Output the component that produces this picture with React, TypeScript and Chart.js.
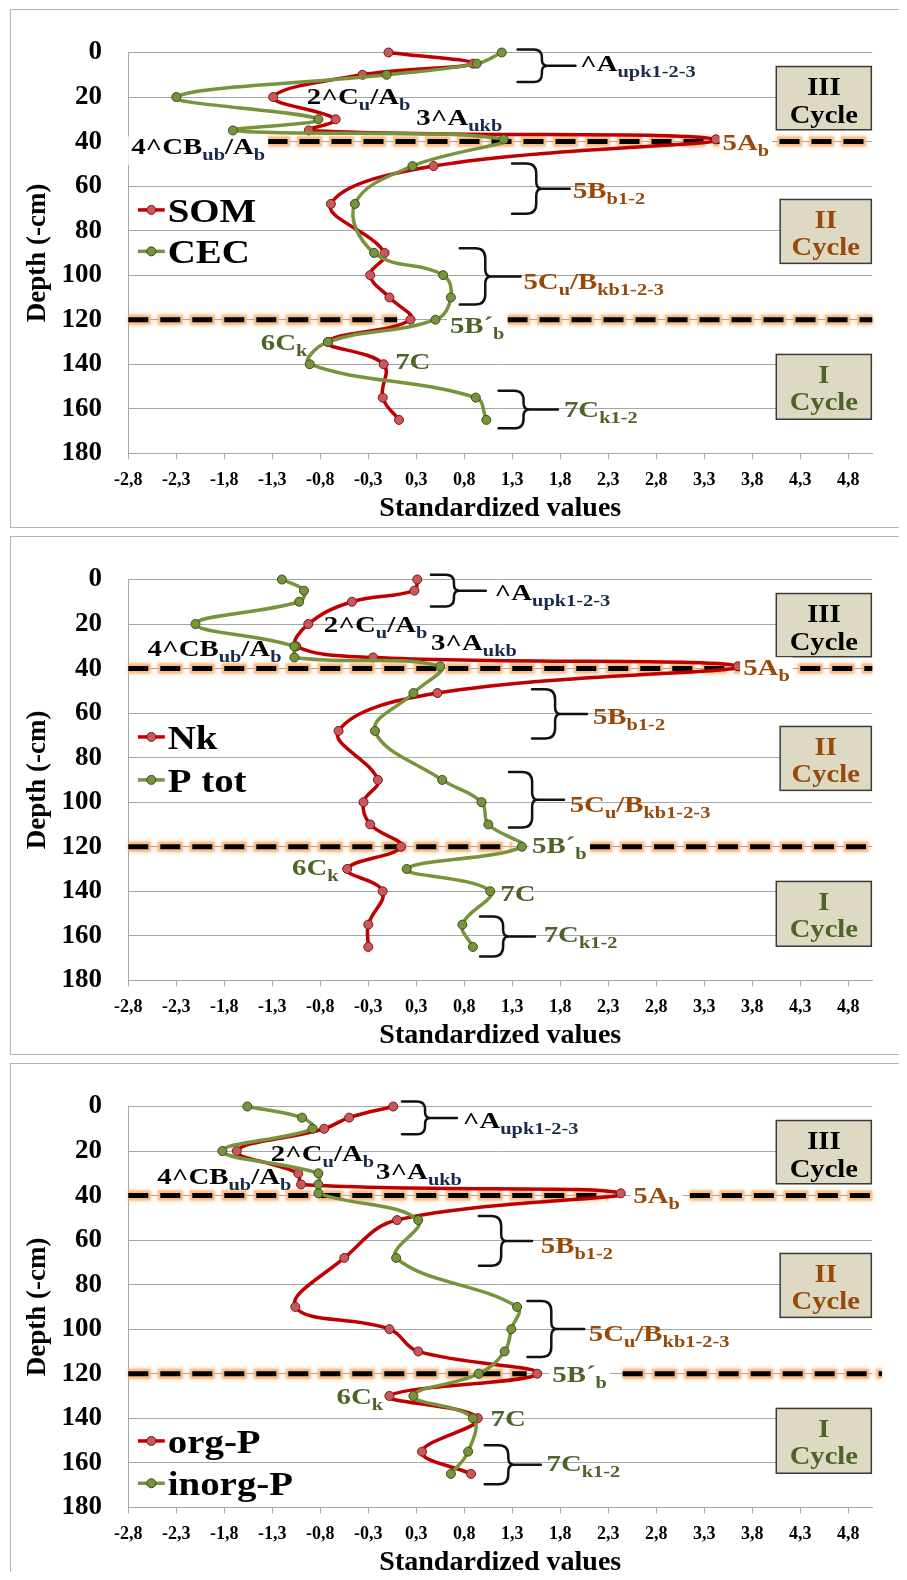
import React, { useEffect, useRef } from "react";
import { Chart, registerables } from "chart.js";

Chart.register(...registerables);

// ---------------- data ----------------
const depths = [0, 5, 10, 20, 30, 35, 39, 51, 68, 90, 100, 110, 120, 130, 140, 155, 165];

const somValues = [-0.04, 0.84, -0.31, -1.24, -0.59, -0.87, 3.37, 0.43, -0.64, -0.08, -0.23, -0.03, 0.19, -0.67, -0.09, -0.1, 0.07];
const cecValues = [1.14, 0.88, -0.06, -2.25, -0.77, -1.66, 1.16, 0.21, -0.39, -0.19, 0.53, 0.61, 0.45, -0.67, -0.86, 0.87, 0.98];

const nkValues = [0.26, 0.23, -0.42, -0.875, -1.0, -0.2, 3.6, 0.47, -0.56, -0.15, -0.3, -0.23, 0.09, -0.47, -0.1, -0.25, -0.25];
const ptotValues = [-1.15, -0.92, -0.97, -2.05, -1.02, -1.02, 0.5, 0.22, -0.18, 0.52, 0.93, 1.0, 1.35, 0.15, 1.02, 0.73, 0.84];

const orgPValues = [0.01, -0.45, -0.71, -1.62, -0.98, -0.95, 2.38, 0.05, -0.5, -1.01, -0.03, 0.27, 1.51, -0.03, 0.89, 0.31, 0.82];
const inorgPValues = [-1.51, -0.94, -0.83, -1.77, -0.77, -0.77, -0.77, 0.27, 0.04, 1.3, 1.24, 1.17, 0.9, 0.22, 0.84, 0.79, 0.61];

const xTickValues = [-2.75, -2.25, -1.75, -1.25, -0.75, -0.25, 0.25, 0.75, 1.25, 1.75, 2.25, 2.75, 3.25, 3.75, 4.25, 4.75];
const xTickLabels = ["-2,8", "-2,3", "-1,8", "-1,3", "-0,8", "-0,3", "0,3", "0,8", "1,3", "1,8", "2,3", "2,8", "3,3", "3,8", "4,3", "4,8"];
const xMin = -2.75;
const xMax = 5.0;
const yMin = 0;
const yMax = 180;
const yStep = 20;

const K = "#000000";
const BR = "#984807";
const GR = "#4f6228";

const cycleBoxes = [
  { lines: ["III", "Cycle"], color: K, x1: 4.0, x2: 4.99, d1: 6.3, d2: 34.7 },
  { lines: ["II", "Cycle"], color: BR, x1: 4.04, x2: 4.99, d1: 66, d2: 94.7 },
  { lines: ["I", "Cycle"], color: GR, x1: 4.0, x2: 4.99, d1: 135.6, d2: 164.7 },
];

// labels: parts beginning with "_" are subscripts
const panel1Labels = [
  { parts: ["^A", "_upk1-2-3"], x: 1.955, d: 8.4, c: K },
  { parts: ["2^C", "_u", "/A", "_b"], x: -0.89, d: 23.2, c: K },
  { parts: ["3^A", "_ukb"], x: 0.25, d: 32.6, c: K },
  { parts: ["4^CB", "_ub", "/A", "_b"], x: -2.72, d: 45.7, c: K, bg: true },
  { parts: ["5A", "_b"], x: 3.44, d: 43.6, c: BR, bg: true },
  { parts: ["5B", "_b1-2"], x: 1.882, d: 65.4, c: BR },
  { parts: ["5C", "_u", "/B", "_kb1-2-3"], x: 1.366, d: 106.2, c: BR },
  { parts: ["5B\u00b4", "_b"], x: 0.6, d: 125.9, c: GR, bg: true },
  { parts: ["6C", "_k"], x: -1.37, d: 133.5, c: GR },
  { parts: ["7C"], x: 0.03, d: 142, c: GR },
  { parts: ["7C", "_k1-2"], x: 1.788, d: 163.8, c: GR },
];
const panel2Labels = [
  { parts: ["^A", "_upk1-2-3"], x: 1.065, d: 9.3, c: K },
  { parts: ["2^C", "_u", "/A", "_b"], x: -0.713, d: 23.6, c: K },
  { parts: ["3^A", "_ukb"], x: 0.402, d: 31.7, c: K },
  { parts: ["4^CB", "_ub", "/A", "_b"], x: -2.55, d: 34.3, c: K },
  { parts: ["5A", "_b"], x: 3.655, d: 42.9, c: BR, bg: true },
  { parts: ["5B", "_b1-2"], x: 2.09, d: 65, c: BR },
  { parts: ["5C", "_u", "/B", "_kb1-2-3"], x: 1.848, d: 104.3, c: BR },
  { parts: ["5B\u00b4", "_b"], x: 1.455, d: 122.9, c: GR, bg: true },
  { parts: ["6C", "_k"], x: -1.045, d: 132.9, c: GR },
  { parts: ["7C"], x: 1.125, d: 144.3, c: GR },
  { parts: ["7C", "_k1-2"], x: 1.577, d: 162.9, c: GR },
];
const panel3Labels = [
  { parts: ["^A", "_upk1-2-3"], x: 0.733, d: 9.6, c: K },
  { parts: ["2^C", "_u", "/A", "_b"], x: -1.267, d: 24.3, c: K },
  { parts: ["3^A", "_ukb"], x: -0.17, d: 32.7, c: K },
  { parts: ["4^CB", "_ub", "/A", "_b"], x: -2.448, d: 34.8, c: K },
  { parts: ["5A", "_b"], x: 2.51, d: 43.5, c: BR, bg: true },
  { parts: ["5B", "_b1-2"], x: 1.547, d: 65.8, c: BR },
  { parts: ["5C", "_u", "/B", "_kb1-2-3"], x: 2.047, d: 105.3, c: BR },
  { parts: ["5B\u00b4", "_b"], x: 1.667, d: 123.6, c: GR, bg: true },
  { parts: ["6C", "_k"], x: -0.58, d: 133.4, c: GR },
  { parts: ["7C"], x: 1.023, d: 143.5, c: GR },
  { parts: ["7C", "_k1-2"], x: 1.607, d: 163.6, c: GR },
];

// braces: [x left, x stem end, depth top, depth bottom]
const panel1Braces = [
  [1.305, 1.908, -1.4, 13.3],
  [1.247, 1.848, 49.9, 72.4],
  [0.703, 1.335, 87.9, 113.2],
  [1.107, 1.726, 151.9, 168.8],
];
const panel2Braces = [
  [0.402, 0.974, -2.1, 12.1],
  [1.455, 2.028, 49.3, 71.4],
  [1.216, 1.789, 86.4, 111.4],
  [0.914, 1.486, 151.4, 169.3],
];
const panel3Braces = [
  [0.101, 0.673, -2.2, 12.5],
  [0.902, 1.455, 49.2, 71.5],
  [1.408, 1.999, 87.3, 112.5],
  [0.963, 1.547, 152.1, 169.6],
];

// dashed horizon boundaries: [depth, x from, x to]
const panel1Dashes = [
  [40, -1.3, 5.0],
  [120, -2.75, 0.05],
  [120, 1.2, 5.0],
];
const panel2Dashes = [
  [40, -2.75, 5.0],
  [120, -2.75, 1.25],
  [120, 2.06, 5.0],
];
const panel3Dashes = [
  [40, -2.75, 2.25],
  [40, 3.1, 5.0],
  [120, -2.75, 1.4],
  [120, 2.4, 5.1],
];

const panel1LegendDepths = [70.7, 89.3];
const panel2LegendDepths = [70.7, 90.0];
const panel3LegendDepths = [150.2, 169.2];

const panels = [
  {
    series: [
      { name: "SOM", values: somValues, kind: "red" },
      { name: "CEC", values: cecValues, kind: "green" },
    ],
    legendDepths: panel1LegendDepths,
    labels: panel1Labels,
    braces: panel1Braces,
    dashes: panel1Dashes,
  },
  {
    series: [
      { name: "Nk", values: nkValues, kind: "red" },
      { name: "P tot", values: ptotValues, kind: "green" },
    ],
    legendDepths: panel2LegendDepths,
    labels: panel2Labels,
    braces: panel2Braces,
    dashes: panel2Dashes,
  },
  {
    series: [
      { name: "org-P", values: orgPValues, kind: "red" },
      { name: "inorg-P", values: inorgPValues, kind: "green" },
    ],
    legendDepths: panel3LegendDepths,
    labels: panel3Labels,
    braces: panel3Braces,
    dashes: panel3Dashes,
  },
];

// ---------------- styles ----------------
const FAMILY = "'Liberation Serif', 'Times New Roman', Times, serif";
const GRID = "#a6a6a6";
const RED_STYLE = { line: "#c00000", fill: "#c9585a", edge: "#7a1414" };
const GREEN_STYLE = { line: "#77933c", fill: "#77933c", edge: "#3a4c1a" };
const SUB_COLOR_FOR_BLACK = "#1a2b4a";
const LBL_MAIN = 24;
const LBL_SUB = 17;
const LBL_SUB_OFF = 6;
const LBL_HS = 1.2;

const CANVAS_W = 894;
const CANVAS_H = 517;

function fontStr(size: number) {
  return `bold ${size}px ${FAMILY}`;
}

function drawScaledText(ctx: CanvasRenderingContext2D, text: string, x: number, y: number, size: number, color: string, hs: number) {
  ctx.save();
  ctx.font = fontStr(size);
  ctx.fillStyle = color;
  ctx.textBaseline = "alphabetic";
  ctx.textAlign = "left";
  ctx.translate(x, y);
  ctx.scale(hs, 1);
  ctx.fillText(text, 0, 0);
  ctx.restore();
}

function measureScaled(ctx: CanvasRenderingContext2D, text: string, size: number, hs: number) {
  ctx.save();
  ctx.font = fontStr(size);
  const w = ctx.measureText(text).width * hs;
  ctx.restore();
  return w;
}

function drawBrace(ctx: CanvasRenderingContext2D, x0: number, x3: number, yT: number, yB: number) {
  const w = x3 - x0;
  const x1 = x0 + 0.42 * w;
  const x2 = x0 + 0.52 * w;
  const yM = (yT + yB) / 2;
  const r = Math.min(10, (yB - yT) / 4);
  ctx.beginPath();
  ctx.moveTo(x0, yT);
  ctx.lineTo(x1 - r, yT);
  ctx.quadraticCurveTo(x1, yT, x1, yT + r);
  ctx.lineTo(x1, yM - r * 0.7);
  ctx.quadraticCurveTo(x1, yM, x2, yM);
  ctx.quadraticCurveTo(x1, yM, x1, yM + r * 0.7);
  ctx.lineTo(x1, yB - r);
  ctx.quadraticCurveTo(x1, yB, x1 - r, yB);
  ctx.lineTo(x0, yB);
  ctx.moveTo(x2, yM);
  ctx.lineTo(x3, yM);
  ctx.stroke();
}

function makeAnnotPlugin(panel: any) {
  return {
    id: "soilAnnot",
    beforeDatasetsDraw(chart: any) {
      const { ctx } = chart;
      const xs = chart.scales.x;
      const ys = chart.scales.y;
      // cycle boxes
      cycleBoxes.forEach((b) => {
        const left = xs.getPixelForValue(b.x1);
        const right = xs.getPixelForValue(b.x2);
        const top = ys.getPixelForValue(b.d1);
        const bottom = ys.getPixelForValue(b.d2);
        ctx.save();
        ctx.fillStyle = "#ddd9c3";
        ctx.fillRect(left, top, right - left, bottom - top);
        ctx.strokeStyle = "#3a3a3a";
        ctx.lineWidth = 1.5;
        ctx.strokeRect(left, top, right - left, bottom - top);
        ctx.restore();
        const cx = (left + right) / 2;
        b.lines.forEach((t, i) => {
          const w = measureScaled(ctx, t, 26, 1.1);
          drawScaledText(ctx, t, cx - w / 2, top + 28.5 + i * 27.5, 26, b.color, 1.1);
        });
      });
      // dashed boundaries with orange glow
      panel.dashes.forEach((s: number[]) => {
        const py = ys.getPixelForValue(s[0]);
        const xa = xs.getPixelForValue(s[1]);
        const xb = xs.getPixelForValue(s[2]);
        ctx.save();
        ctx.lineCap = "butt";
        // glow
        ctx.lineWidth = 10;
        ctx.strokeStyle = "rgba(250,185,125,0.75)";
        ctx.setLineDash([25, 7]);
        ctx.lineDashOffset = 2.5;
        ctx.shadowColor = "rgba(247,150,70,0.8)";
        ctx.shadowBlur = 4;
        ctx.beginPath();
        ctx.moveTo(xa, py);
        ctx.lineTo(xb, py);
        ctx.stroke();
        ctx.restore();
        ctx.save();
        ctx.lineCap = "butt";
        ctx.lineWidth = 5;
        ctx.strokeStyle = "#000";
        ctx.setLineDash([20, 12]);
        ctx.beginPath();
        ctx.moveTo(xa, py);
        ctx.lineTo(xb, py);
        ctx.stroke();
        ctx.restore();
      });
    },
    afterDatasetsDraw(chart: any) {
      const { ctx } = chart;
      const xs = chart.scales.x;
      const ys = chart.scales.y;
      // braces
      ctx.save();
      ctx.strokeStyle = "#111";
      ctx.lineWidth = 2.5;
      ctx.lineJoin = "round";
      ctx.lineCap = "round";
      panel.braces.forEach((b: number[]) => {
        drawBrace(ctx, xs.getPixelForValue(b[0]), xs.getPixelForValue(b[1]), ys.getPixelForValue(b[2]), ys.getPixelForValue(b[3]));
      });
      ctx.restore();
      // labels
      panel.labels.forEach((lab: any) => {
        const px = xs.getPixelForValue(lab.x);
        const py = ys.getPixelForValue(lab.d);
        const items = lab.parts.map((p: string) => {
          const sub = p.startsWith("_");
          const t = sub ? p.slice(1) : p;
          const size = sub ? LBL_SUB : LBL_MAIN;
          return { t, sub, size, w: measureScaled(ctx, t, size, LBL_HS) };
        });
        const total = items.reduce((a: number, it: any) => a + it.w, 0);
        if (lab.bg) {
          ctx.save();
          ctx.fillStyle = "#ffffff";
          ctx.fillRect(px - 3, py - LBL_MAIN * 0.74, total + 6, LBL_MAIN * 0.74 + LBL_SUB_OFF + 5);
          ctx.restore();
        }
        let cx = px;
        items.forEach((it: any) => {
          const color = it.sub && lab.c === K ? SUB_COLOR_FOR_BLACK : lab.c;
          drawScaledText(ctx, it.t, cx, it.sub ? py + LBL_SUB_OFF : py, it.size, color, LBL_HS);
          cx += it.w;
        });
      });
      // legend
      panel.series.forEach((s: any, i: number) => {
        const st = s.kind === "red" ? RED_STYLE : GREEN_STYLE;
        const y = ys.getPixelForValue(panel.legendDepths[i]);
        const x1 = xs.getPixelForValue(-2.65);
        const x2 = xs.getPixelForValue(-2.37);
        ctx.save();
        ctx.strokeStyle = st.line;
        ctx.lineWidth = 3.5;
        ctx.beginPath();
        ctx.moveTo(x1, y);
        ctx.lineTo(x2, y);
        ctx.stroke();
        ctx.beginPath();
        ctx.arc((x1 + x2) / 2, y, 4.5, 0, Math.PI * 2);
        ctx.fillStyle = st.fill;
        ctx.fill();
        ctx.lineWidth = 1;
        ctx.strokeStyle = st.edge;
        ctx.stroke();
        ctx.restore();
        drawScaledText(ctx, s.name, xs.getPixelForValue(-2.34), y + 12, 33, "#000", 1.18);
      });
    },
  };
}

function buildConfig(panel: any): any {
  const datasets = panel.series.map((s: any) => {
    const st = s.kind === "red" ? RED_STYLE : GREEN_STYLE;
    return {
      label: s.name,
      data: depths.map((d, i) => ({ x: s.values[i], y: d })),
      showLine: true,
      clip: false,
      borderColor: st.line,
      backgroundColor: st.fill,
      borderWidth: 3.5,
      pointRadius: 4.5,
      pointBackgroundColor: st.fill,
      pointBorderColor: st.edge,
      pointBorderWidth: 1,
      tension: 0.4,
      order: s.kind === "red" ? 2 : 1,
    };
  });
  return {
    type: "scatter",
    data: { datasets },
    options: {
      responsive: false,
      animation: false,
      devicePixelRatio: 1,
      events: [],
      layout: { padding: { left: 0, top: 16.7, right: 32.7, bottom: 0 } },
      plugins: { legend: { display: false }, tooltip: { enabled: false } },
      scales: {
        x: {
          type: "linear",
          min: xMin,
          max: xMax,
          afterBuildTicks: (scale: any) => {
            scale.ticks = xTickValues.map((v) => ({ value: v }));
          },
          afterFit: (scale: any) => {
            scale.height = 73.7;
          },
          grid: { drawOnChartArea: false, drawTicks: true, tickLength: 6, color: GRID },
          border: { display: true, color: GRID },
          ticks: {
            callback: (v: number) => {
              const idx = xTickValues.findIndex((t) => Math.abs(t - v) < 1e-6);
              return idx >= 0 ? xTickLabels[idx] : "";
            },
            font: { family: FAMILY, size: 18, weight: "bold" },
            color: "#000",
            padding: 10,
            maxRotation: 0,
            minRotation: 0,
            autoSkip: false,
          },
          title: {
            display: true,
            text: "Standardized values",
            font: { family: FAMILY, size: 28, weight: "bold" },
            color: "#000",
            padding: { top: 0, bottom: 1 },
          },
        },
        y: {
          type: "linear",
          reverse: true,
          min: yMin,
          max: yMax,
          afterFit: (scale: any) => {
            scale.width = 117.3;
          },
          grid: { color: GRID, drawTicks: false },
          border: { display: true, color: GRID },
          ticks: {
            stepSize: yStep,
            font: { family: FAMILY, size: 27, weight: "bold" },
            color: "#000",
            padding: 26.3,
          },
          title: {
            display: true,
            text: "Depth (-cm)",
            font: { family: FAMILY, size: 27, weight: "bold" },
            color: "#000",
            padding: { top: 10.8, bottom: 0 },
          },
        },
      },
    },
    plugins: [makeAnnotPlugin(panel)],
  };
}

function Panel({ panel, top }: { panel: any; top: number }) {
  const ref = useRef<HTMLCanvasElement>(null);
  useEffect(() => {
    if (!ref.current) return;
    const chart = new Chart(ref.current, buildConfig(panel));
    return () => chart.destroy();
  }, [panel]);
  return (
    <div
      style={{
        position: "absolute",
        left: 2,
        top,
        width: 896,
        height: 519,
        border: "1px solid #b4b4b4",
        boxSizing: "border-box",
        background: "#fff",
      }}
    >
      <canvas ref={ref} width={CANVAS_W} height={CANVAS_H} style={{ display: "block" }} />
    </div>
  );
}

export default function App() {
  useEffect(() => {
    document.documentElement.style.overflow = "hidden";
    document.body.style.overflow = "hidden";
  }, []);
  return (
    <div style={{ position: "relative", width: 899, height: 1564 }}>
      {panels.map((p, i) => (
        <Panel key={i} panel={p} top={1 + 527 * i} />
      ))}
    </div>
  );
}
